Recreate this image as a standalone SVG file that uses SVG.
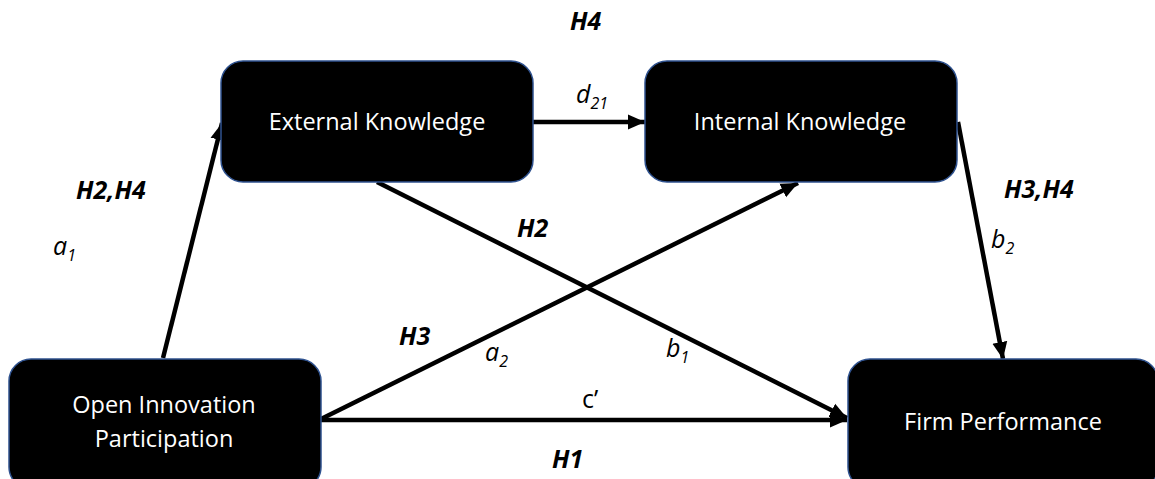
<svg xmlns="http://www.w3.org/2000/svg" width="1155" height="479" viewBox="0 0 1155 479">
<defs>
<style>
.box{fill:#000;stroke:#2F528F;stroke-width:1.5}
.nt{fill:#fff;font-family:"Open Sans","Liberation Sans",sans-serif;font-size:23.5px;text-anchor:middle}
.lab{fill:#000;font-family:"Open Sans","Liberation Sans",sans-serif;font-size:25px;font-style:italic}
.b{font-weight:bold}
.s{font-size:16px}
.conn{stroke:#000;stroke-width:4.5;fill:none;marker-end:url(#ah)}
</style>
<marker id="ah" markerUnits="userSpaceOnUse" markerWidth="20" markerHeight="18" refX="17" refY="9" orient="auto">
<path d="M0,1.5 L17,9 L0,16.5 Z" fill="#000"/>
</marker>
</defs>
<g id="connectors">
<line class="conn" x1="163" y1="358" x2="222" y2="123"/>
<line class="conn" x1="533" y1="122" x2="645" y2="122"/>
<line class="conn" x1="377" y1="182" x2="847" y2="418"/>
<line class="conn" x1="321" y1="419" x2="798" y2="183"/>
<line class="conn" x1="321" y1="420" x2="847" y2="420"/>
<line class="conn" x1="958" y1="122" x2="1003" y2="359"/>
</g>
<g id="external">
<rect class="box" x="221" y="61" width="312" height="121" rx="22"/>
<text class="nt" x="377" y="130">External Knowledge</text>
</g>
<g id="internal">
<rect class="box" x="645" y="61" width="312" height="121" rx="22"/>
<text class="nt" x="800" y="130">Internal Knowledge</text>
</g>
<g id="open">
<rect class="box" x="9" y="359" width="312" height="130" rx="22"/>
<text class="nt" x="164" y="413">Open Innovation</text>
<text class="nt" x="164" y="447">Participation</text>
</g>
<g id="firm">
<rect class="box" x="848" y="359" width="310" height="130" rx="22"/>
<text class="nt" x="1003" y="430">Firm Performance</text>
</g>
<g id="labels">
<text class="lab b" x="570" y="30">H4</text>
<text class="lab b" x="76" y="199">H2,H4</text>
<text class="lab" x="53" y="255">a<tspan class="s" dy="6">1</tspan></text>
<text class="lab" x="576" y="103">d<tspan class="s" dy="6">21</tspan></text>
<text class="lab b" x="517" y="237">H2</text>
<text class="lab b" x="1004" y="198">H3,H4</text>
<text class="lab" x="991" y="248">b<tspan class="s" dy="6">2</tspan></text>
<text class="lab b" x="399" y="345">H3</text>
<text class="lab" x="485" y="361">a<tspan class="s" dy="6">2</tspan></text>
<text class="lab" x="666" y="357">b<tspan class="s" dy="6">1</tspan></text>
<text class="lab" x="582" y="408" style="font-style:normal">c’</text>
<text class="lab b" x="552" y="468">H1</text>
</g>
</svg>
